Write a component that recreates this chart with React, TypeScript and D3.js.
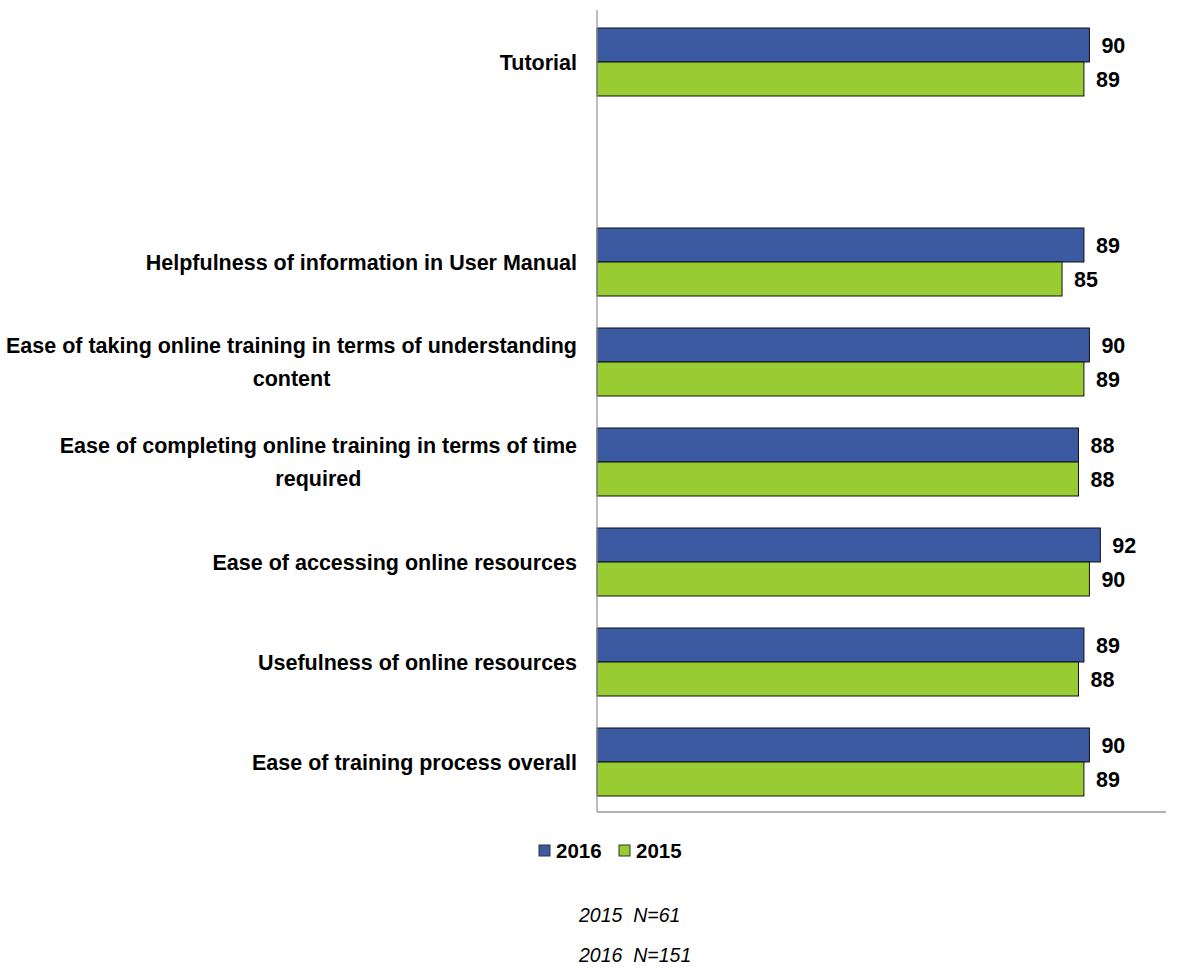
import React from "react";
import * as d3 from "d3";

const categories: string[][] = [
  ["Tutorial"],
  [],
  ["Helpfulness of information in User Manual"],
  ["Ease of taking online training in terms of understanding", "content"],
  ["Ease of completing online training in terms of time", "required"],
  ["Ease of accessing online resources"],
  ["Usefulness of online resources"],
  ["Ease of training process overall"],
];
const values2016: (number | null)[] = [90, null, 89, 90, 88, 92, 89, 90];
const values2015: (number | null)[] = [89, null, 85, 89, 88, 90, 88, 89];
const seriesNames = ["2016", "2015"];
const seriesColors = ["#3C5AA2", "#99CC33"];
const footnotes = ["2015  N=61", "2016  N=151"];

const W = 1196;
const H = 979;
const FONT = "'Liberation Sans', Arial, sans-serif";

function measure(text: string, font: string): number {
  const c = document.createElement("canvas");
  const ctx = c.getContext("2d")!;
  ctx.font = font;
  return ctx.measureText(text).width;
}

export default function App() {
  const x0 = 597;
  const x1 = 1166;
  const yTop = 12;
  const yBot = 812;
  const x = d3.scaleLinear().domain([0, 104]).range([x0, x1]);
  const y = d3
    .scaleBand<number>()
    .domain(d3.range(categories.length))
    .range([yTop, yBot])
    .paddingInner(0.32)
    .paddingOuter(0.16);
  const bandH = y.bandwidth();
  const barH = bandH / 2;
  const FS = 21.5;
  const labelFont = `bold ${FS}px ${FONT}`;

  return (
    <svg width={W} height={H} style={{ position: "absolute", left: 0, top: 0 }}>
      <rect width={W} height={H} fill="#fff" />
      {categories.map((lines, i) => {
        const cy = (y(i) as number) + bandH / 2;
        const vals = [values2016[i], values2015[i]];
        const maxW = Math.max(0, ...lines.map((l) => measure(l, labelFont)));
        const cx = 577 - maxW / 2;
        const lh = 33;
        const startY = cy - ((lines.length - 1) * lh) / 2;
        return (
          <g key={i}>
            {lines.map((l, j) => (
              <text
                key={j}
                x={lines.length > 1 ? cx : 577}
                y={startY + j * lh}
                dy="0.35em"
                textAnchor={lines.length > 1 ? "middle" : "end"}
                fontFamily={FONT}
                fontWeight="bold"
                fontSize={FS}
                fill="#000"
              >
                {l}
              </text>
            ))}
            {vals.map((v, k) =>
              v == null ? null : (
                <g key={k}>
                  <rect
                    x={x(0)}
                    y={(y(i) as number) + k * barH}
                    width={x(v) - x(0)}
                    height={barH}
                    fill={seriesColors[k]}
                    stroke="#111"
                    strokeWidth={1}
                  />
                  <text
                    x={x(v) + 12}
                    y={(y(i) as number) + k * barH + barH / 2}
                    dy="0.35em"
                    fontFamily={FONT}
                    fontWeight="bold"
                    fontSize={FS}
                    fill="#000"
                  >
                    {v}
                  </text>
                </g>
              )
            )}
          </g>
        );
      })}
      <line x1={x0} x2={x0} y1={10} y2={yBot} stroke="#999" strokeWidth={1.3} />
      <line x1={x0} x2={x1} y1={yBot} y2={yBot} stroke="#999" strokeWidth={1.3} />
      {seriesNames.map((s, k) => {
        const lx = 539 + k * 80;
        return (
          <g key={s}>
            <rect x={lx} y={845} width={11} height={11} fill={seriesColors[k]} stroke="#333" strokeWidth={1} />
            <text x={lx + 17} y={851} dy="0.35em" fontFamily={FONT} fontWeight="bold" fontSize={20.5} fill="#000">
              {s}
            </text>
          </g>
        );
      })}
      {footnotes.map((f, k) => (
        <text
          key={f}
          x={579}
          y={915 + k * 40}
          dy="0.35em"
          textAnchor="start"
          fontFamily={FONT}
          fontStyle="italic"
          fontSize={19.5}
          fill="#000"
          style={{ whiteSpace: "pre" }}
        >
          {f}
        </text>
      ))}
    </svg>
  );
}
